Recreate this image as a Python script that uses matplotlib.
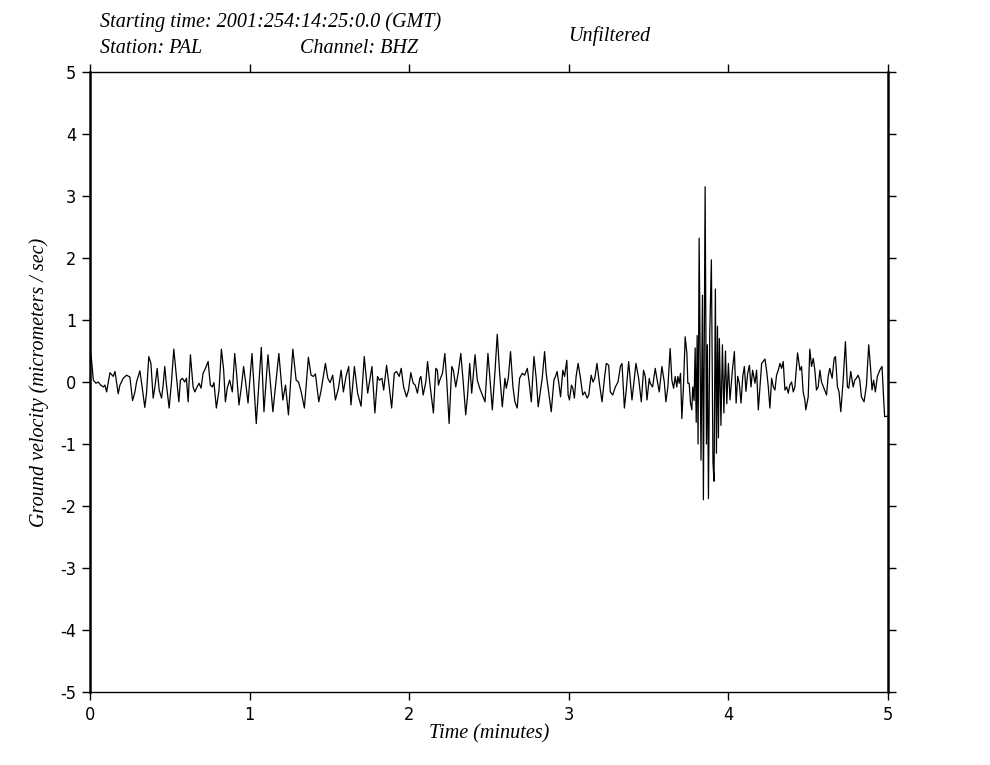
import numpy as np
import matplotlib
matplotlib.use("Agg")
import matplotlib.pyplot as plt

plt.rcParams["axes.unicode_minus"] = False

# Trace: (time in seconds, ground velocity in um/s)
t_sec = [
    0.0, 0.4, 1.25, 2.25, 3.1, 4.0, 5.0, 5.6, 6.25, 7.5, 8.75, 9.4, 10.6, 11.25,
    12.5, 13.75, 15.0, 16.0, 16.9, 17.5, 18.75, 19.6, 20.6, 21.25, 22.1, 22.9,
    23.75, 24.4, 25.25, 26.0, 26.9, 27.5, 28.1, 28.75, 29.75, 30.6, 31.5, 32.5,
    33.4, 34.0, 34.75, 35.6, 36.25, 36.9, 37.75, 38.75, 39.4, 40.25, 41.0, 41.75,
    42.5, 43.4, 44.4, 45.25, 46.0, 46.6, 47.5, 48.5, 49.4, 50.25, 50.9, 51.6,
    52.5, 53.5, 54.4, 55.1, 56.0, 56.9, 57.75, 58.5, 59.4,
    60.9, 62.5, 64.4, 65.4, 66.9, 68.75, 71.0, 72.5, 73.5, 74.6, 76.25, 77.5,
    78.4, 79.4, 80.6, 82.1, 83.1, 84.0, 84.75, 86.0, 86.9, 88.5, 89.4, 90.25,
    91.25, 92.25, 93.4, 94.4, 95.25, 96.25, 97.25, 98.1, 99.4, 100.6, 101.9,
    103.1, 104.4, 105.0, 106.0, 107.1, 108.1, 108.75, 109.75, 110.4, 111.5,
    112.5, 113.4, 114.4, 115.25, 116.25, 117.0, 117.9,
    119.0, 119.75, 120.6, 121.5, 122.25, 123.1, 124.0, 124.4, 125.25, 126.25,
    126.9, 127.75, 128.5, 129.1, 130.0, 130.6, 131.0, 131.5, 132.5, 133.4,
    134.1, 135.0, 136.0, 136.6, 137.5, 138.4, 139.4, 140.25, 141.25, 141.9,
    142.75, 143.5, 144.75, 145.6, 146.5, 147.5, 148.5, 149.6, 150.4, 151.25,
    152.25, 153.1, 154.0, 155.0, 156.0, 156.5, 157.25, 158.1, 159.0, 159.75,
    160.6, 161.5, 162.5, 163.4, 164.4, 165.0, 165.9, 166.9, 167.75, 168.5,
    169.4, 170.0, 170.9, 171.5, 172.5, 173.4, 174.4, 175.0, 175.6, 176.25,
    176.9, 177.75, 178.4, 179.25,
    179.75, 180.25, 181.0, 181.5, 182.1, 182.75, 183.5, 184.4, 185.25, 186.0,
    186.9, 187.5, 188.4, 189.1, 189.75, 190.6, 191.5, 192.5, 193.4, 194.1,
    195.0, 195.6, 196.5, 197.5, 198.5, 199.4, 200.0, 200.9, 201.6, 202.5,
    203.1, 203.75, 205.25, 206.25, 207.25, 208.1, 208.75, 209.4, 210.25, 210.6,
    211.5, 212.5, 213.1, 214.0, 215.0, 215.9, 216.5, 217.25, 218.1, 218.75,
    219.4, 220.0, 220.6,
    221.0, 221.5, 222.0, 222.5, 223.1, 223.75, 224.4, 224.75, 225.25, 225.75,
    226.25, 226.6, 227.1, 227.5, 227.9, 228.25, 228.6, 229.0, 229.7, 230.25,
    230.6, 231.25, 231.75, 232.1, 232.5, 233.0, 233.6, 234.2, 234.6, 235.1,
    235.5, 235.9, 236.25, 236.6, 237.2, 237.75, 238.3, 238.9, 239.4, 240.0,
    240.6, 241.5, 242.25, 242.9, 243.5, 244.1, 244.75, 245.4, 246.0, 246.6,
    247.25, 247.9, 248.5, 249.1, 250.0, 250.6, 251.25,
    252.5, 253.75, 254.4, 255.0, 255.6, 256.25, 256.9, 257.5, 258.1, 258.75,
    259.4, 260.0, 260.6, 261.25, 261.9, 262.5, 263.1, 263.75, 264.4, 265.0,
    266.0, 266.9, 267.5, 268.1, 268.75, 269.1, 270.0, 270.6, 271.25, 271.9,
    272.5, 273.1, 273.75, 274.4, 275.0, 275.9, 276.9, 277.5, 278.1, 279.0,
    279.75, 280.25, 281.0, 281.6, 282.25, 283.1, 283.5, 284.0, 284.75, 285.25,
    286.0, 286.9, 287.5, 288.1, 288.75, 289.4, 290.0, 291.0, 291.9, 292.75,
    293.4, 294.0, 294.6, 295.25, 296.0, 296.9, 297.75, 298.4, 298.75, 300.0,
]
velocity = [
    0.30, 0.44, 0.03, -0.02, 0.0, -0.05, -0.08, -0.05, -0.16, 0.15, 0.09, 0.17, -0.19, -0.05,
    0.06, 0.11, 0.08, -0.30, -0.16, 0.0, 0.18, -0.08, -0.41, -0.18, 0.41, 0.30,
    -0.26, -0.08, 0.22, -0.13, -0.26, -0.05, 0.25, -0.05, -0.42, -0.02, 0.53, 0.09,
    -0.32, 0.03, 0.06, 0.0, 0.06, -0.32, 0.44, -0.08, -0.16, -0.08, -0.02, -0.10,
    0.14, 0.22, 0.33, -0.05, -0.08, -0.01, -0.42, -0.13, 0.53, 0.19, -0.32, -0.10,
    0.03, -0.16, 0.46, 0.14, -0.37, -0.08, 0.25, 0.0, -0.34,
    0.46, -0.67, 0.56, -0.48, 0.44, -0.48, 0.46, -0.29, -0.05, -0.53, 0.53, 0.03,
    0.0, -0.16, -0.42, 0.40, 0.11, 0.09, 0.13, -0.32, -0.13, 0.30, 0.06, -0.01,
    0.11, -0.29, -0.10, 0.19, -0.16, 0.09, 0.25, -0.37, 0.25, -0.18, -0.39,
    0.41, -0.18, -0.02, 0.25, -0.50, 0.09, 0.03, 0.06, -0.13, 0.27,
    -0.08, -0.42, 0.14, 0.17, 0.09, 0.22, -0.08,
    -0.24, -0.13, 0.15, -0.02, -0.05, -0.18, 0.06, 0.09, -0.21, 0.0,
    0.33, -0.02, -0.29, -0.50, 0.22, 0.19, -0.05, 0.03, 0.14, 0.46,
    0.03, -0.67, 0.25, 0.19, -0.08, 0.14, 0.46, 0.03, -0.53, -0.24,
    0.30, -0.18, 0.44, 0.03, -0.10, -0.21, -0.32, 0.46, 0.03, -0.45,
    0.17, 0.77, 0.14, -0.40, 0.06, -0.10, 0.06, 0.49, -0.08, -0.32,
    -0.42, 0.06, 0.14, 0.11, 0.22, 0.03, -0.32, 0.41, 0.06, -0.40,
    -0.13, 0.06, 0.49, 0.14, -0.18, -0.48, 0.03, 0.09, 0.17, -0.02,
    -0.24, 0.19, 0.09, 0.35,
    -0.21, -0.29, -0.05, -0.10, -0.26, 0.09, 0.30, 0.06, -0.21, -0.16,
    -0.26, -0.21, 0.11, 0.0, 0.06, 0.30, -0.02, -0.32, 0.06, 0.30,
    0.27, -0.16, -0.21, -0.08, 0.0, 0.25, 0.30, -0.42, -0.13, 0.33,
    0.03, -0.29, 0.30, 0.06, -0.32, 0.19, 0.09, -0.29, 0.06, -0.02,
    -0.08, 0.22, 0.06, -0.16, 0.25, 0.0, -0.32, -0.08, 0.54, 0.03,
    -0.10, 0.09, -0.08,
    0.09, -0.02, 0.14, -0.59, -0.08, 0.73, 0.46, -0.02, -0.02, -0.34,
    -0.45, -0.08, -0.30, 0.55, -0.65, 0.75, -1.00, 2.32, -1.26, 1.40,
    -1.90, 3.15, -1.00, 0.60, -1.88, 0.80, 1.97, -1.30, -1.60, 1.50,
    -1.15, 0.90, -0.90, 0.70, -0.70, 0.60, -0.50, 0.50, -0.35, 0.30,
    -0.29, 0.19, 0.49, -0.34, 0.09, -0.02, -0.34, 0.09, 0.25, -0.15,
    0.14, 0.27, -0.08, 0.19, -0.02, 0.19, -0.45,
    0.30, 0.37, 0.17, -0.08, -0.42, 0.06, -0.08, -0.13, 0.11, 0.19,
    0.30, 0.22, 0.33, -0.13, -0.08, -0.18, -0.05, 0.0, -0.16, -0.08,
    0.47, 0.19, 0.25, -0.16, -0.29, -0.45, -0.24, 0.53, 0.25, 0.38,
    0.19, -0.13, -0.08, 0.19, 0.0, -0.10, -0.21, 0.09, 0.22, 0.06,
    0.38, 0.41, -0.08, -0.16, -0.48, 0.0, 0.30, 0.65, -0.08, -0.10,
    0.17, -0.08, 0.03, 0.06, 0.11, 0.03, -0.24, -0.32, -0.05, 0.60,
    0.25, -0.13, 0.03, -0.16, 0.09, 0.19, 0.25, -0.30, -0.56, -0.55,
]

x_ticks = [0, 1, 2, 3, 4, 5]
y_ticks = [-5, -4, -3, -2, -1, 0, 1, 2, 3, 4, 5]

SERIF = ["Liberation Serif", "DejaVu Serif"]
SANS = ["DejaVu Sans"]

fig = plt.figure(figsize=(9.9, 7.65), dpi=100, facecolor="white")
ax = fig.add_axes([90 / 990, 73 / 765, 798 / 990, 620 / 765])

minutes = np.array(t_sec) / 60.0
ax.plot(minutes, velocity, color="black", lw=0.9)

ax.set_xlim(0, 5)
ax.set_ylim(-5, 5)
ax.set_xticks(x_ticks)
ax.set_yticks(y_ticks)
ax.tick_params(direction="out", length=6, width=1, colors="black",
               top=True, right=True, labelsize=13, pad=4)
for lab in ax.get_xticklabels() + ax.get_yticklabels():
    lab.set_family(SANS)
    lab.set_stretch("condensed")

for side in ["left", "right"]:
    ax.spines[side].set_linewidth(1.8)
for side in ["top", "bottom"]:
    ax.spines[side].set_linewidth(1.0)

ax.set_xlabel("Time (minutes)", family=SERIF, style="italic", fontsize=14.5, labelpad=0)
ax.set_ylabel("Ground velocity (micrometers / sec)", family=SERIF, style="italic",
              fontsize=14.5, labelpad=8)

fig.text(100 / 990, 1 - 27 / 765, "Starting time: 2001:254:14:25:0.0 (GMT)",
         family=SERIF, style="italic", fontsize=14.5)
fig.text(100 / 990, 1 - 53 / 765, "Station: PAL",
         family=SERIF, style="italic", fontsize=14.5)
fig.text(300 / 990, 1 - 53 / 765, "Channel: BHZ",
         family=SERIF, style="italic", fontsize=14.5)
fig.text(568 / 990, 1 - 41 / 765, "Unfiltered",
         family=SERIF, style="italic", fontsize=14.5)

fig.savefig("out.png", dpi=100, facecolor="white")
